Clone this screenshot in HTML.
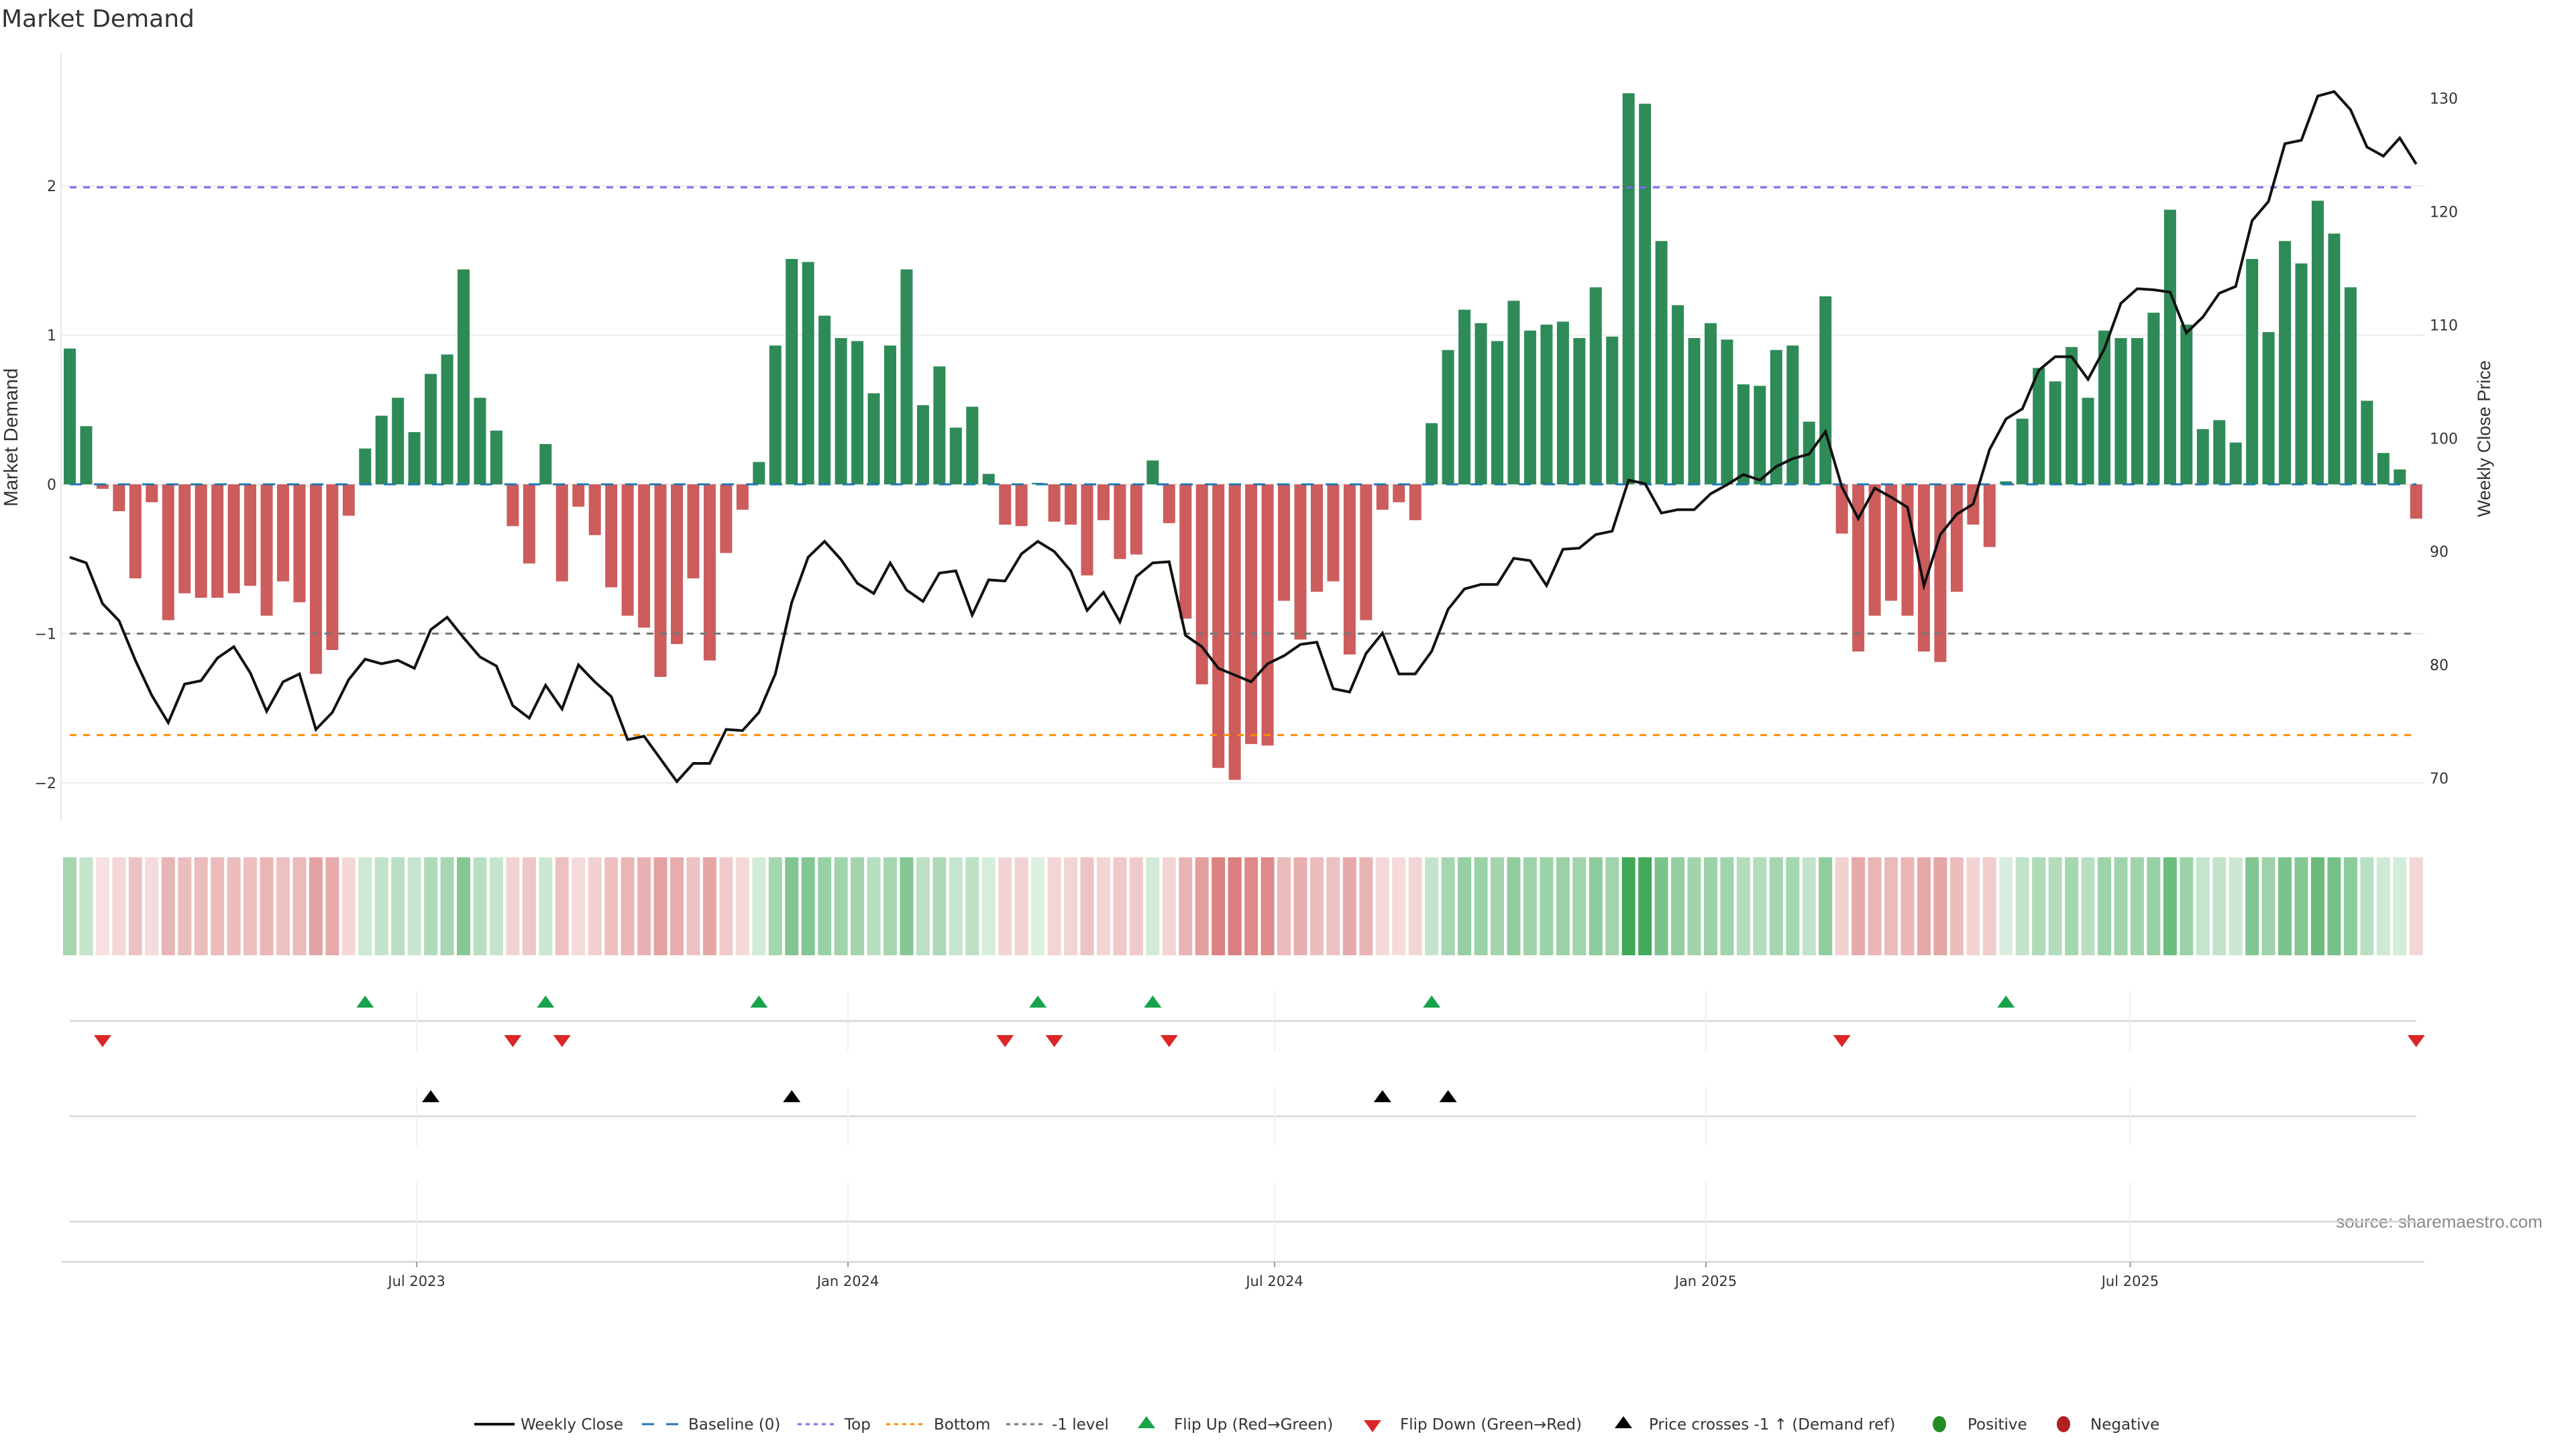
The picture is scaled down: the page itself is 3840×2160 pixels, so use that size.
<!DOCTYPE html>
<html><head><meta charset="utf-8">
<style>
html,body{margin:0;padding:0;background:#fff;}
svg{display:block;font-family:"DejaVu Sans","Liberation Sans",sans-serif;}
</style></head>
<body>
<svg id="chart" width="3840" height="2160" viewBox="0 0 3840 2160" xmlns="http://www.w3.org/2000/svg">
<rect x="0" y="0" width="3840" height="2160" fill="#fff"/>
<text x="2" y="40" font-size="36" fill="#333">Market Demand</text>
<text transform="translate(26,652) rotate(-90)" text-anchor="middle" font-size="29" fill="#333" font-family="Liberation Sans, sans-serif">Market Demand</text>
<text transform="translate(3712,654) rotate(-90)" text-anchor="middle" font-size="27" fill="#333" font-family="Liberation Sans, sans-serif">Weekly Close Price</text>
<text x="3790" y="1830" text-anchor="end" font-size="26" fill="#888" font-family="Liberation Sans, sans-serif">source: sharemaestro.com</text>
<g id="g"></g>
</svg>
<script>
const demand = [0.91,0.39,-0.03,-0.18,-0.63,-0.12,-0.91,-0.73,-0.76,-0.76,-0.73,-0.68,-0.88,-0.65,-0.79,-1.27,-1.11,-0.21,0.24,0.46,0.58,0.35,0.74,0.87,1.44,0.58,0.36,-0.28,-0.53,0.27,-0.65,-0.15,-0.34,-0.69,-0.88,-0.96,-1.29,-1.07,-0.63,-1.18,-0.46,-0.17,0.15,0.93,1.51,1.49,1.13,0.98,0.96,0.61,0.93,1.44,0.53,0.79,0.38,0.52,0.07,-0.27,-0.28,0.01,-0.25,-0.27,-0.61,-0.24,-0.50,-0.47,0.16,-0.26,-0.90,-1.34,-1.90,-1.98,-1.74,-1.75,-0.78,-1.04,-0.72,-0.65,-1.14,-0.91,-0.17,-0.12,-0.24,0.41,0.90,1.17,1.08,0.96,1.23,1.03,1.07,1.09,0.98,1.32,0.99,2.62,2.55,1.63,1.20,0.98,1.08,0.97,0.67,0.66,0.90,0.93,0.42,1.26,-0.33,-1.12,-0.88,-0.78,-0.88,-1.12,-1.19,-0.72,-0.27,-0.42,0.02,0.44,0.78,0.69,0.92,0.58,1.03,0.98,0.98,1.15,1.84,1.07,0.37,0.43,0.28,1.51,1.02,1.63,1.48,1.90,1.68,1.32,0.56,0.21,0.10,-0.23];
const closes = [89.5,89.0,85.4,83.9,80.4,77.3,74.9,78.3,78.6,80.6,81.6,79.3,75.9,78.5,79.2,74.3,75.8,78.7,80.5,80.1,80.4,79.7,83.1,84.2,82.4,80.7,79.9,76.4,75.3,78.2,76.1,80.0,78.5,77.2,73.4,73.7,71.7,69.7,71.3,71.3,74.3,74.2,75.8,79.2,85.5,89.5,90.9,89.3,87.2,86.3,89.0,86.6,85.6,88.1,88.3,84.4,87.5,87.4,89.8,90.9,90.0,88.3,84.8,86.4,83.8,87.8,89.0,89.1,82.6,81.6,79.7,79.1,78.5,80.1,80.8,81.8,82.0,77.9,77.6,81.0,82.8,79.2,79.2,81.2,84.9,86.7,87.1,87.1,89.4,89.2,87.0,90.2,90.3,91.5,91.8,96.3,96.0,93.4,93.7,93.7,95.1,95.9,96.8,96.3,97.5,98.2,98.6,100.6,95.7,92.9,95.6,94.8,93.9,87.0,91.5,93.3,94.2,99.0,101.7,102.6,106.0,107.2,107.2,105.2,107.9,111.9,113.2,113.1,112.9,109.3,110.7,112.8,113.4,119.2,120.9,126.0,126.3,130.2,130.6,129.0,125.7,124.9,126.5,124.2];
const leftTicks = [-2,-1,0,1,2];
const rightTicks = [70,80,90,100,110,120,130];
const dateTicks = ["2023-07-01","2024-01-01","2024-07-01","2025-01-01","2025-07-01"];
const dateLabels = ["Jul 2023","Jan 2024","Jul 2024","Jan 2025","Jul 2025"];
const topLevel = 1.99, bottomLevel = -1.68, minusLevel = -1;
const startDate = "2023-02-03";

const NS="http://www.w3.org/2000/svg";
const g=document.getElementById('g');
function el(tag,attrs,parent){const e=document.createElementNS(NS,tag);for(const k in attrs)e.setAttribute(k,attrs[k]);(parent||g).appendChild(e);return e;}
const X0=104, STEP=24.46;
const xi=i=>X0+i*STEP;
const yL=v=>722-v*222.5;
const yR=p=>1160-(p-70)*16.89;
const day0=Date.parse(startDate);
const xd=s=>X0+(Date.parse(s)-day0)/86400000*(STEP/7);
const PL=92, PR=3614;

leftTicks.forEach(t=>{
  const l=el('line',{x1:PL,x2:PR,y1:yL(t),y2:yL(t),stroke:'#ececec','stroke-width':2});
  
  
  const tx=el('text',{x:84,y:yL(t)+8,'text-anchor':'end','font-size':22,fill:'#333'});
  tx.textContent=t<0?'\u2212'+Math.abs(t):String(t);
  
  
});
const ax=el('line',{x1:91,x2:91,y1:80,y2:1224,stroke:'#e8e8e8','stroke-width':2});


rightTicks.forEach(t=>{
  const tx=el('text',{x:3622,y:yR(t)+8,'font-size':22,fill:'#333'});
  tx.textContent=String(t);
  
  
});
demand.forEach((v,i)=>{
  const y=Math.min(yL(0),yL(v)),h=Math.abs(yL(v)-yL(0));
  const r=el('rect',{x:xi(i)-9,y:y,width:18,height:Math.max(h,0.5),fill:v>=0?'#2e8b57':'#cd5c5c'});
  
  
});
const refs=[[0,'#1f77b4','18,18','baseline-line'],[topLevel,'#7b68ee','10,10','top-line'],[bottomLevel,'#ff8c00','10,10','bottom-line'],[minusLevel,'#777','10,10','minus-one-line']];
refs.forEach(r=>{
  const l=el('line',{x1:104,x2:3602,y1:yL(r[0]),y2:yL(r[0]),stroke:r[1],'stroke-width':3,'stroke-dasharray':r[2]});
  
  
});
const pts=closes.map((p,i)=>xi(i).toFixed(1)+','+yR(p).toFixed(1)).join(' ');
const pl=el('polyline',{points:pts,fill:'none',stroke:'#111','stroke-width':4,'stroke-linejoin':'miter'});


const maxAbs=Math.max(...demand.map(Math.abs));
demand.forEach((v,i)=>{
  const a=0.17+0.75*Math.abs(v)/maxAbs;
  const c=v>=0?[46,160,72]:[205,80,80];
  const col='rgb('+c.map(k=>Math.round(255-(255-k)*a)).join(',')+')';
  const r=el('rect',{x:xi(i)-10,y:1278,width:20,height:146,fill:col});
  
  
});
[[1522,104,3602],[1664,104,3602],[1821,104,3602],[1881,92,3614]].forEach((a,k)=>{
  const l=el('line',{x1:a[1],x2:a[2],y1:a[0],y2:a[0],stroke:'#d6d6d6','stroke-width':2.5});
  
  
});
dateTicks.forEach((d,k)=>{
  const x=xd(d);
  [[1478,1567],[1621,1708],[1762,1881]].forEach(s=>{
    const l=el('line',{x1:x,x2:x,y1:s[0],y2:s[1],stroke:'#eef0f2','stroke-width':2});
    
    
  });
  const tk=el('line',{x1:x,x2:x,y1:1881,y2:1889,stroke:'#999','stroke-width':2});
  
  
  const tx=el('text',{x:x,y:1917,'text-anchor':'middle','font-size':21,fill:'#333'});
  tx.textContent=dateLabels[k];
  
  
});
function tri(x,y,up,col){
  const s=13;
  const p=up?[[x-s,y+8],[x+s,y+8],[x,y-10]]:[[x-s,y-8],[x+s,y-8],[x,y+10]];
  return el('polygon',{points:p.map(q=>q.join(',')).join(' '),fill:col});
}
for(let i=1;i<demand.length;i++){
  if(demand[i-1]<0&&demand[i]>=0){const t=tri(xi(i),1494,true,'#16a34a');}
  if(demand[i-1]>=0&&demand[i]<0){const t=tri(xi(i),1551,false,'#dc2626');}
}
const crossPrice=70+(1160-yL(minusLevel))/16.89;
for(let i=1;i<closes.length;i++){
  if(closes[i-1]<crossPrice&&closes[i]>=crossPrice){const t=tri(xi(i),1635,true,'#000');}
}
const LY=2123;
const lg=el('g',{});


function ltext(x,s){const t=el('text',{x:x,y:LY+8,'font-size':23,fill:'#333'},lg);t.textContent=s;}
function lline(x1,x2,col,dash,w,name){const l=el('line',{x1:x1,x2:x2,y1:LY,y2:LY,stroke:col,'stroke-width':w,'stroke-dasharray':dash},lg);}
lline(707,767,'#111','none',4,'legend-weekly-close');ltext(776,'Weekly Close');
lline(957,1012,'#1f77b4','18,18',3,'legend-baseline');ltext(1026,'Baseline (0)');
lline(1189,1244,'#7b68ee','6,6',3,'legend-top');ltext(1259,'Top');
lline(1321,1376,'#ff8c00','6,6',3,'legend-bottom');ltext(1392,'Bottom');
lline(1500,1555,'#777','6,6',3,'legend-minus-one');ltext(1568,'-1 level');
let t1=tri(1709,LY-2,true,'#16a34a');lg.appendChild(t1);ltext(1750,'Flip Up (Red\u2192Green)');
let t2=tri(2046,LY+2,false,'#dc2626');lg.appendChild(t2);ltext(2087,'Flip Down (Green\u2192Red)');
let t3=tri(2420,LY-2,true,'#000');lg.appendChild(t3);ltext(2458,'Price crosses -1 \u2191 (Demand ref)');
let c1=el('ellipse',{cx:2891,cy:LY,rx:10,ry:12,fill:'#228b22'},lg);ltext(2933,'Positive');
let c2=el('ellipse',{cx:3076,cy:LY,rx:10,ry:12,fill:'#b22222'},lg);ltext(3116,'Negative');
</script>
</body></html>
